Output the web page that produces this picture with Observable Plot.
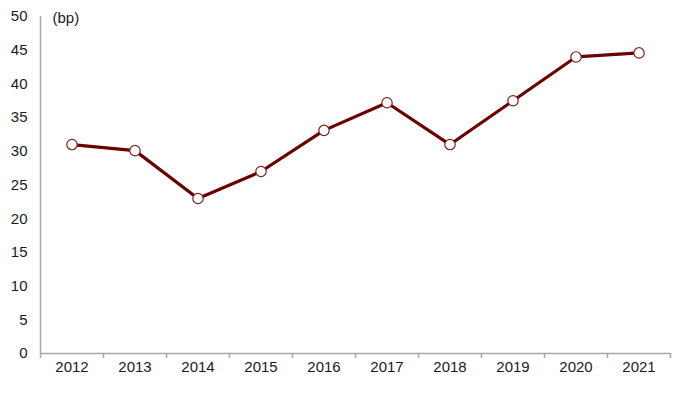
<!DOCTYPE html>
<html>
<head>
<meta charset="utf-8">
<script src="https://cdn.jsdelivr.net/npm/d3@7"></script>
<script src="https://cdn.jsdelivr.net/npm/@observablehq/plot@0.6"></script>
<style>
  html, body { margin: 0; padding: 0; background: #fff; }
  #chart { width: 699px; height: 399px; }
</style>
</head>
<body>
<div id="chart"></div>
<script>
const years = [2012, 2013, 2014, 2015, 2016, 2017, 2018, 2019, 2020, 2021];
const values = [31.0, 30.1, 23.0, 27.0, 33.1, 37.2, 31.0, 37.5, 44.0, 44.6];
const yTicks = [0, 5, 10, 15, 20, 25, 30, 35, 40, 45, 50];
const unitLabel = "(bp)";

const data = years.map((year, i) => ({year, value: values[i]}));
const boundaries = [years[0] - 0.5, ...years.map(y => y + 0.5)];

const lineColor = "#6a0000";
const dotStroke = "#7a2020";
const axisColor = "#a6a6a6";
const textColor = "#1a1a1a";

const chart = Plot.plot({
  width: 699,
  height: 399,
  marginLeft: 40,
  marginRight: 29,
  marginTop: 16,
  marginBottom: 46,
  style: {fontFamily: "Liberation Sans, Arial, sans-serif", fontSize: "15px", color: textColor, background: "#fff"},
  x: {domain: [boundaries[0], boundaries[boundaries.length - 1]], axis: null},
  y: {domain: [0, 50], axis: null},
  marks: [
    Plot.axisY({ticks: yTicks, tickSize: 0, tickPadding: 13, fontSize: 15, fill: textColor, label: null}),
    Plot.axisX({ticks: years, tickSize: 0, tickPadding: 8, tickFormat: d => String(d), fontSize: 15, fill: textColor, label: null}),
    Plot.ruleX(boundaries, {x: d => d, y1: 0, y2: 0, stroke: axisColor, strokeWidth: 1.5, insetBottom: -5}),
    Plot.ruleY([0], {stroke: axisColor, strokeWidth: 1.5}),
    Plot.ruleX([boundaries[0]], {stroke: axisColor, strokeWidth: 1.5}),
    Plot.line(data, {x: "year", y: "value", stroke: lineColor, strokeWidth: 3.2}),
    Plot.dot(data, {x: "year", y: "value", r: 5.2, fill: "#fff", stroke: dotStroke, strokeWidth: 1.2}),
    Plot.text([unitLabel], {frameAnchor: "top-left", dx: 12, dy: -4, fontSize: 15, fill: textColor})
  ]
});
document.getElementById("chart").appendChild(chart);
</script>
</body>
</html>
